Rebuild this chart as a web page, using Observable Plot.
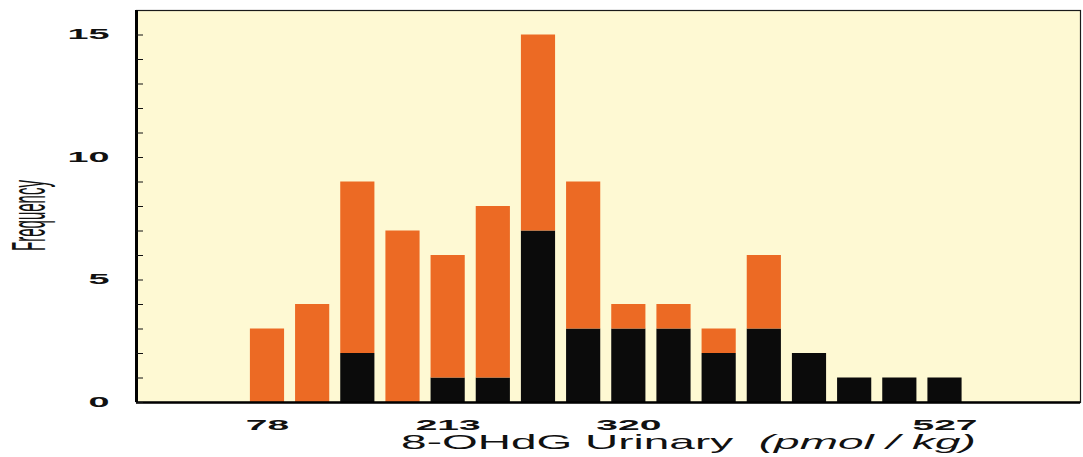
<!DOCTYPE html>
<html>
<head>
<meta charset="utf-8">
<script src="https://cdn.jsdelivr.net/npm/d3@7"></script>
<script src="https://cdn.jsdelivr.net/npm/@observablehq/plot@0.6"></script>
<style>
  html, body { margin: 0; padding: 0; background: #ffffff; }
  #chart svg { display: block; background: #ffffff; font-family: "Liberation Sans", Arial, sans-serif; }
</style>
</head>
<body>
<div id="chart"></div>
<script>
// ---- data ----
const bins = [1, 2, 3, 4, 5, 6, 7, 8, 9, 10, 11, 12, 13, 14, 15, 16];
const lowCounts  = [0, 0, 2, 0, 1, 1, 7, 3, 3, 3, 2, 3, 2, 1, 1, 1];   // black part
const highCounts = [3, 4, 7, 7, 5, 7, 8, 6, 1, 1, 1, 3, 0, 0, 0, 0];   // orange part
const xTickLabels = ["78", "213", "320", "527"];
const xTickBins = [1, 5, 9, 16];
const yTickLabels = [0, 5, 10, 15];
const yMinorTicks = [0, 1, 2, 3, 4, 5, 6, 7, 8, 9, 10, 11, 12, 13, 14, 15];
const groups = ["low", "high"];
const yTitle = "Frequency";
const xTitleMain = "8-OHdG Urinary\u00a0\u00a0";
const xTitleUnit = "(pmol / kg)";

// ---- table built from the arrays ----
const rows = [];
bins.forEach((b, i) => {
  rows.push({bin: b, group: "low", count: lowCounts[i]});
  rows.push({bin: b, group: "high", count: highCounts[i]});
});
const drawn = rows.filter(d => d.count > 0);

const xDomain = [-1.9, 19.0];
const bg = "#fef9d3";

const chart = Plot.plot({
  width: 1083,
  height: 457,
  marginLeft: 136,
  marginRight: 3,
  marginTop: 10,
  marginBottom: 55,
  x: {type: "linear", domain: xDomain},
  y: {domain: [0, 16]},
  color: {type: "ordinal", domain: groups, range: ["#0b0b0b", "#ec6a24"]},
  marks: [
    Plot.frame({fill: bg}),
    Plot.rectY(drawn, {
      x1: d => d.bin - 0.5,
      x2: d => d.bin + 0.5,
      y: "count",
      fill: "group",
      insetLeft: 5.5,
      insetRight: 5.5
    }),
    Plot.frame({stroke: "#1a1a1a", strokeWidth: 1.2}),
    Plot.ruleX([xDomain[0]], {stroke: "#000", strokeWidth: 3}),
    Plot.ruleY([0], {stroke: "#000", strokeWidth: 2.5}),
    Plot.axisY({ticks: yMinorTicks, tickSize: 7, dx: 7, tickFormat: () => "", label: null, stroke: "#111"}),
    Plot.axisY({ticks: yTickLabels, tickSize: 0, tickPadding: 27, label: null,
      fontSize: 14, fontWeight: "bold", fill: "#111"}),
    Plot.axisX({ticks: xTickBins, tickSize: 0, tickPadding: 17, label: null,
      tickFormat: d => xTickLabels[xTickBins.indexOf(d)],
      fontSize: 15, fontWeight: "bold", fill: "#111"}),
    Plot.text([yTitle], {text: d => d, frameAnchor: "left", textAnchor: "middle", dx: -107, dy: 9, rotate: -90,
      fontSize: 15, fill: "#111"}),
    Plot.text([xTitleMain + xTitleUnit], {text: d => d, frameAnchor: "bottom", textAnchor: "middle", dx: 80, dy: 46,
      fontSize: 21, fill: "#111"})
  ]
});

document.getElementById("chart").appendChild(chart);

// ---- horizontal stretching of the text to match the reference's aspect ----
function isNum(v) { return v != null && v !== "" && isFinite(+v); }
function stretch(el, sx) {
  const node = el.node();
  let a = 1, b = 0, c = 0, d = 1, e = 0, f = 0;
  const list = node.transform && node.transform.baseVal;
  const m = list && list.numberOfItems ? list.consolidate().matrix : null;
  if (m) { a = m.a; b = m.b; c = m.c; d = m.d; e = m.e; f = m.f; }
  const xa = node.getAttribute("x"), ya = node.getAttribute("y");
  const lx = isNum(xa) ? +xa : 0, ly = isNum(ya) ? +ya : 0;
  if (isNum(xa)) node.removeAttribute("x");
  if (isNum(ya)) node.removeAttribute("y");
  e += a * lx + c * ly;
  f += b * lx + d * ly;
  node.setAttribute("transform", `matrix(${sx * a},${b},${sx * c},${d},${e},${f})`);
}

const svg = d3.select(chart);
svg.selectAll("text").each(function () {
  const s = this.textContent;
  const el = d3.select(this);
  if (xTickLabels.includes(s)) stretch(el, 2.6);
  else if (yTickLabels.map(String).includes(s)) stretch(el, 2.7);
  else if (s === yTitle) stretch(el, 3.2);
  else if (s === xTitleMain + xTitleUnit) {
    el.text(null);
    el.append("tspan").text(xTitleMain);
    el.append("tspan").attr("font-style", "italic").text(xTitleUnit);
    stretch(el, 2.19);
  }
});
</script>
</body>
</html>
